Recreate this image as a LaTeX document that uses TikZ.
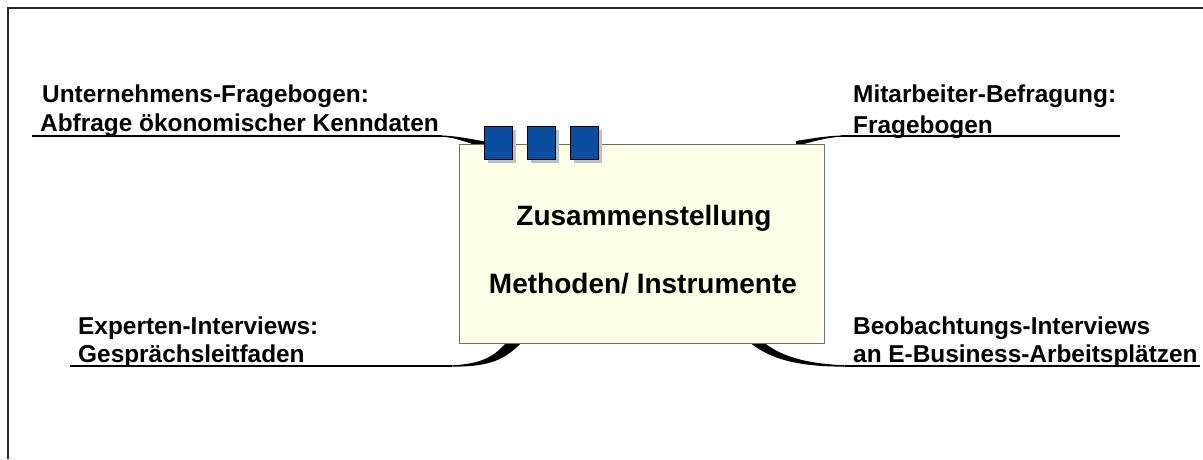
\documentclass[tikz,border=0pt]{standalone}
\usepackage{fontspec}
\setmainfont{Liberation Sans}
\usetikzlibrary{shadows}
\definecolor{cardfill}{HTML}{FFFFE8}
\definecolor{cardedge}{HTML}{6E6E6E}
\definecolor{tabblue}{HTML}{0B4EA0}
\begin{document}
\begin{tikzpicture}[x=1pt,y=-1pt,
  lbl/.style={inner sep=0pt, anchor=base west, font=\fontsize{24.4}{29}\selectfont\bfseries},
  ttl/.style={inner sep=0pt, anchor=base, font=\fontsize{28}{34}\selectfont\bfseries},
  card/.style={fill=cardfill, draw=cardedge, line width=1pt, inner sep=0pt},
  tab/.style={fill=tabblue, draw=black, line width=0.9pt, inner sep=0pt,
    minimum width=28pt, minimum height=33pt,
    drop shadow={shadow xshift=4pt, shadow yshift=-4pt, fill=black!25, opacity=1}},
  rule/.style={line width=1.2pt},
  taper/.style={fill=black}]
\useasboundingbox (0,0) rectangle (1203,459);
\fill[white] (0,0) rectangle (1203,459);

% open frame along the left and top
\draw[line width=2pt, black!85] (8,459) -- (8,8) -- (1203,8);

% anchor points of the four leader lines
\coordinate (ulA) at (32,136);   \coordinate (ulB) at (442,136);
\coordinate (urA) at (841,136);  \coordinate (urB) at (1120,136);
\coordinate (llA) at (70,366);   \coordinate (llB) at (452,366);
\coordinate (lrA) at (845,366);  \coordinate (lrB) at (1200,366);

% underlines
\draw[rule] (ulA) -- (ulB);
\draw[rule] (urA) -- (urB);
\draw[rule] (llA) -- (llB);
\draw[rule] (lrA) -- (lrB);

% tapered swooshes into the card
\fill[taper] (440,135.4) .. controls (458,136) and (470,139) .. (488,142)
  -- (488,149) .. controls (470,144) and (458,137.5) .. (440,136.6) -- cycle;
\fill[taper] (843,135.4) .. controls (825,136) and (812,138.5) .. (796,141)
  -- (796,146) .. controls (812,142) and (825,137.5) .. (843,136.6) -- cycle;
\fill[taper] (450,365.4) .. controls (485,364) and (495,355) .. (508,341)
  -- (523,341) .. controls (505,360) and (490,367) .. (450,366.6) -- cycle;
\fill[taper] (748,341) .. controls (770,360) and (800,367) .. (848,366.6)
  -- (848,365.4) .. controls (805,364) and (780,356) .. (762,341) -- cycle;

% central card
\node[card, minimum width=365pt, minimum height=199pt] (card) at (641.5,243.5) {};

% binder tabs on the top edge
\node[tab] (t1) at (498,142.5) {};
\node[tab] (t2) at (541,142.5) {};
\node[tab] (t3) at (584,142.5) {};

% card title
\node[ttl] (title1) at (644,225) {Zusammenstellung};
\node[ttl] (title2) at (643,293) {Methoden/ Instrumente};

% labels
\node[lbl] (ul1) at (42,102) {Unternehmens-Fragebogen:};
\node[lbl] (ul2) at (40,131) {Abfrage ökonomischer Kenndaten};
\node[lbl] (ur1) at (853,102) {Mitarbeiter-Befragung:};
\node[lbl] (ur2) at (853,133) {Fragebogen};
\node[lbl] (ll1) at (78,334) {Experten-Interviews:};
\node[lbl] (ll2) at (78,362) {Gesprächsleitfaden};
\node[lbl] (lr1) at (853,334) {Beobachtungs-Interviews};
\node[lbl] (lr2) at (853,362) {an E-Business-Arbeitsplätzen};
\end{tikzpicture}
\end{document}
